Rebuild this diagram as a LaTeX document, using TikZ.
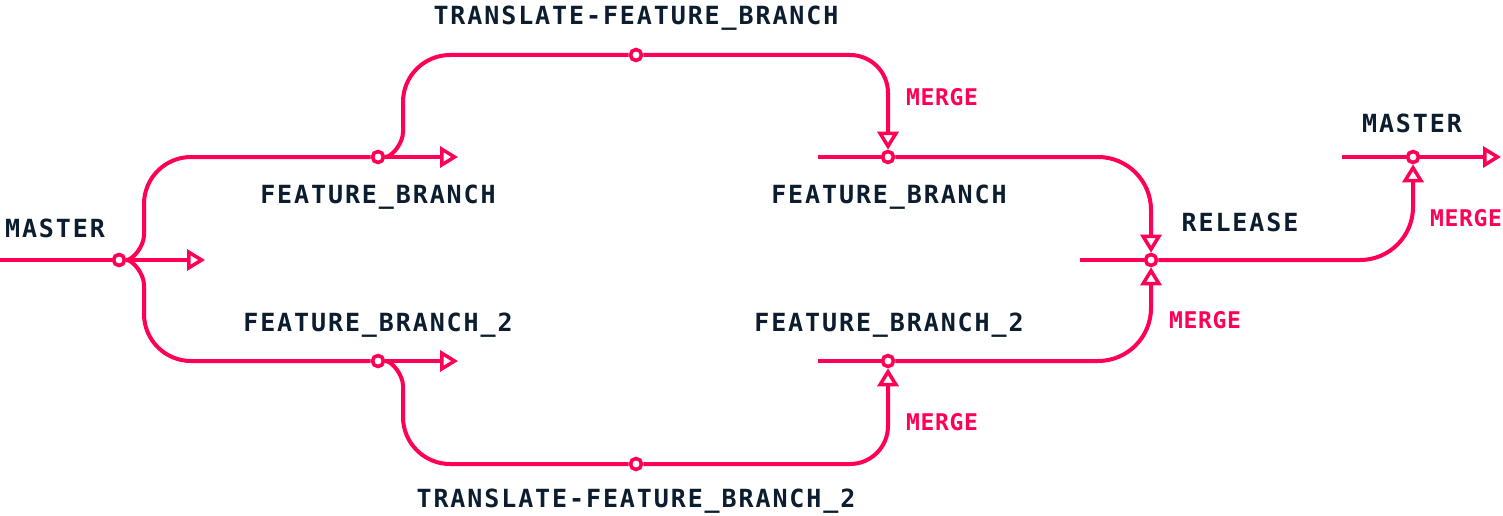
\documentclass[tikz,border=0pt]{standalone}
\usepackage{fontspec}
\newfontfamily\labelfont[LetterSpace=7.6]{DejaVu Sans Mono Bold}
\newfontfamily\mergefont[LetterSpace=2.8]{DejaVu Sans Mono Bold}
\usetikzlibrary{arrows.meta,backgrounds}
\definecolor{gitpink}{RGB}{255,0,85}
\definecolor{gitdark}{RGB}{11,29,46}
\tikzset{
  branchline/.style={draw=gitpink, line width=4pt},
  arr/.style={-{Triangle[fill=white, length=18pt, width=21pt, line width=3.5pt]}},
  commit/.style={circle, draw=gitpink, fill=white, line width=3.6pt, minimum size=11pt, inner sep=0pt},
  lbl/.style={anchor=base, inner sep=0pt, text=gitdark, font=\labelfont\fontsize{25}{30}\selectfont},
  mlbl/.style={anchor=base, inner sep=0pt, text=gitpink, font=\mergefont\fontsize{23}{28}\selectfont},
}
\begin{document}
\begin{tikzpicture}[x=1pt, y=-1pt]
\useasboundingbox (0,0) rectangle (1503,516);
% commits
\node[commit] (m1) at (119,260) {};
\node[commit] (f1) at (378,157) {};
\node[commit] (g1) at (378,361) {};
\node[commit] (t1) at (636,55) {};
\node[commit] (t2) at (636,464) {};
\node[commit] (s1) at (888,157) {};
\node[commit] (s2) at (888,361) {};
\node[commit] (r1) at (1151,260) {};
\node[commit] (mm) at (1413,157) {};
% free ends
\coordinate (m0) at (0,260);
\coordinate (ma) at (205,260);
\coordinate (fa) at (458,157);
\coordinate (ga) at (458,361);
\coordinate (fb0) at (818,157);
\coordinate (gb0) at (818,361);
\coordinate (rb0) at (1080,260);
\coordinate (mb0) at (1342,157);
\coordinate (mma) at (1501,157);
\begin{scope}[on background layer]
% master left
\draw[branchline] (m0) -- (m1);
\draw[branchline, arr] (m1) -- (ma);
% feature branches from master
\draw[branchline] (m1) .. controls (132.8,260) and (144,246.2) .. (144,235) -- (144,204)
  .. controls (144,178.1) and (165.1,157) .. (191,157) -- (f1);
\draw[branchline, arr] (f1) -- (fa);
\draw[branchline] (m1) .. controls (132.8,260) and (144,273.8) .. (144,285) -- (144,314)
  .. controls (144,339.9) and (165.1,361) .. (191,361) -- (g1);
\draw[branchline, arr] (g1) -- (ga);
% translate branches
\draw[branchline] (f1) .. controls (391.8,157) and (403,143.2) .. (403,132) -- (403,102)
  .. controls (403,76.1) and (424.1,55) .. (450,55) -- (t1);
\draw[branchline, arr] (t1) -- (850,55) .. controls (871,55) and (888,72) .. (888,93) -- (s1);
\draw[branchline] (g1) .. controls (391.8,361) and (403,374.8) .. (403,386) -- (403,417)
  .. controls (403,442.9) and (424.1,464) .. (450,464) -- (t2);
\draw[branchline, arr] (t2) -- (850,464) .. controls (871,464) and (888,447) .. (888,426) -- (s2);
% feature branches to release
\draw[branchline] (fb0) -- (s1);
\draw[branchline, arr] (s1) -- (1098,157) .. controls (1127.3,157) and (1151,180.7) .. (1151,210) -- (r1);
\draw[branchline] (gb0) -- (s2);
\draw[branchline, arr] (s2) -- (1098,361) .. controls (1127.3,361) and (1151,337.3) .. (1151,308) -- (r1);
% release to master
\draw[branchline] (rb0) -- (r1);
\draw[branchline, arr] (r1) -- (1360,260) .. controls (1389.3,260) and (1413,236.3) .. (1413,207) -- (mm);
\draw[branchline] (mb0) -- (mm);
\draw[branchline, arr] (mm) -- (mma);
\end{scope}
% labels
\node[lbl] (lt1) at (636,25) {TRANSLATE-FEATURE\_BRANCH};
\node[mlbl] (lm1) at (942,106) {MERGE};
\node[lbl] (lf1) at (378,203) {FEATURE\_BRANCH};
\node[lbl] (lf2) at (889,203) {FEATURE\_BRANCH};
\node[lbl] (lm0) at (55,237) {MASTER};
\node[lbl] (lr) at (1240,231) {RELEASE};
\node[lbl] (lmm) at (1412,132) {MASTER};
\node[mlbl] (lm2) at (1466,226) {MERGE};
\node[lbl] (lg1) at (378,331) {FEATURE\_BRANCH\_2};
\node[lbl] (lg2) at (889,331) {FEATURE\_BRANCH\_2};
\node[mlbl] (lm3) at (1205,328) {MERGE};
\node[mlbl] (lm4) at (942,430) {MERGE};
\node[lbl] (lt2) at (636,507) {TRANSLATE-FEATURE\_BRANCH\_2};
\end{tikzpicture}
\end{document}
